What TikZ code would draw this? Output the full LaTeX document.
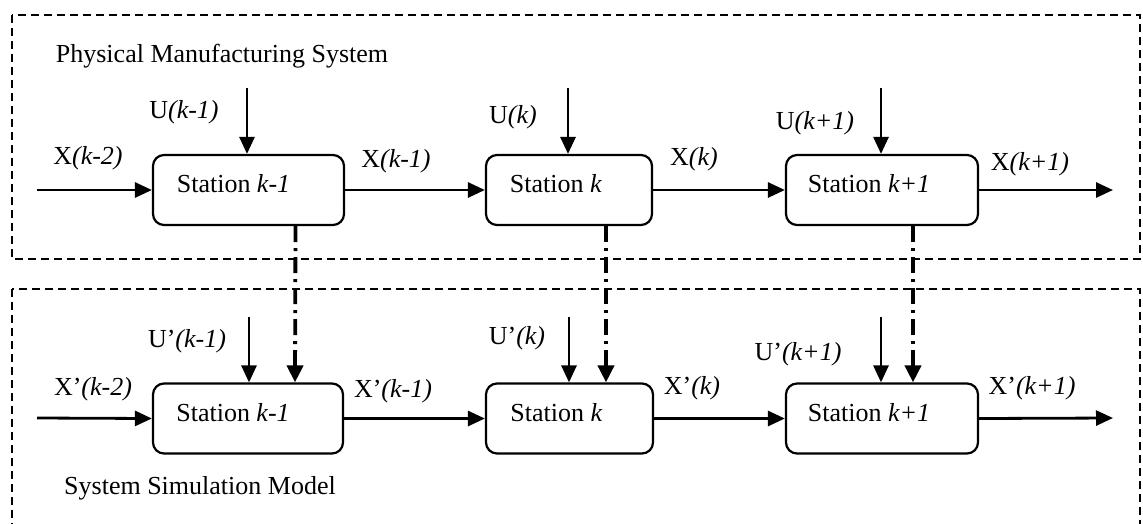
\documentclass[tikz,border=0pt]{standalone}
\usepackage{fontspec}
\setmainfont{Liberation Serif}
\usetikzlibrary{arrows.meta,calc}

\tikzset{
  stationbox/.style={draw, line width=2.2pt, rounded corners=11pt, minimum height=70pt, inner sep=0pt},
  flow/.style={line width=2.8pt, -{Triangle[length=17pt,width=15pt]}},
  link/.style={line width=3.8pt, dash pattern=on 16pt off 6pt on 3pt off 6pt, -{Triangle[length=17pt,width=16pt]}},
  region/.style={line width=1.9pt, dash pattern=on 8pt off 5pt},
  lbl/.style={inner sep=0pt, font=\fontsize{26}{30}\selectfont},
}

\begin{document}
\begin{tikzpicture}[x=1pt, y=-1pt]
  \useasboundingbox (0,0) rectangle (1143,523);
  \clip (0,0) rectangle (1143,523);

  % dashed regions
  \draw[region] (12,15) rectangle (1140,259);
  \draw[region] (12,289) rectangle (1140,540);

  \node[lbl] (phys) at (222,56) {Physical Manufacturing System};
  \node[lbl] (sim)  at (200,488) {System Simulation Model};

  % physical stations
  \node[stationbox, minimum width=191pt] (t1) at (248.5,190) {};
  \node[stationbox, minimum width=166pt] (t2) at (569,190) {};
  \node[stationbox, minimum width=192pt] (t3) at (882,190) {};
  \node[lbl] (t1txt) at ([shift={(-15,-6)}]t1.center) {Station \textit{k-1}};
  \node[lbl] (t2txt) at ([shift={(-13,-6)}]t2.center) {Station \textit{k}};
  \node[lbl] (t3txt) at ([shift={(-13,-6)}]t3.center) {Station \textit{k+1}};

  % simulated stations
  \node[stationbox, minimum width=190pt] (b1) at (248,418.5) {};
  \node[stationbox, minimum width=167pt] (b2) at (569.5,418.5) {};
  \node[stationbox, minimum width=192pt] (b3) at (882,418.5) {};
  \node[lbl] (b1txt) at ([shift={(-15,-6)}]b1.center) {Station \textit{k-1}};
  \node[lbl] (b2txt) at ([shift={(-13,-6)}]b2.center) {Station \textit{k}};
  \node[lbl] (b3txt) at ([shift={(-13,-6)}]b3.center) {Station \textit{k+1}};

  % free ends of the flows
  \coordinate (tin)  at (37,190);
  \coordinate (tout) at (1113,190);
  \coordinate (bin)  at (37,418);
  \coordinate (bout) at (1113,418);
  \coordinate (u1) at (247,88);
  \coordinate (u2) at (568,88);
  \coordinate (u3) at (881,88);
  \coordinate (v1) at (249,317);
  \coordinate (v2) at (569,317);
  \coordinate (v3) at (881,317);

  % physical flow
  \draw[flow] (tin) -- (t1.west);
  \draw[flow] (t1.east) -- (t2.west);
  \draw[flow] (t2.east) -- (t3.west);
  \draw[flow] (t3.east) -- (tout);
  \draw[flow] (u1) -- (u1 |- t1.north);
  \draw[flow] (u2) -- (u2 |- t2.north);
  \draw[flow] (u3) -- (u3 |- t3.north);

  % simulated flow
  \draw[flow] (bin) -- (b1.west);
  \draw[flow] (b1.east) -- (b2.west);
  \draw[flow] (b2.east) -- (b3.west);
  \draw[flow] (b3.east) -- (bout);
  \draw[flow] (v1) -- (v1 |- b1.north);
  \draw[flow] (v2) -- (v2 |- b2.north);
  \draw[flow] (v3) -- (v3 |- b3.north);

  % links from physical to simulated stations
  \draw[link] ([xshift=47pt]t1.south) -- ([xshift=47pt]b1.north);
  \draw[link] ([xshift=37pt]t2.south) -- ([xshift=36.5pt]b2.north);
  \draw[link] ([xshift=31pt]t3.south) -- ([xshift=31pt]b3.north);

  % signal labels, physical
  \node[lbl] (lx0) at (88,158)   {X\textit{(k-2)}};
  \node[lbl] (lu1) at (184,112)  {U\textit{(k-1)}};
  \node[lbl] (lx1) at (396,161)  {X\textit{(k-1)}};
  \node[lbl] (lu2) at (513,117)  {U\textit{(k)}};
  \node[lbl] (lx2) at (694,159)  {X\textit{(k)}};
  \node[lbl] (lu3) at (815,123)  {U\textit{(k+1)}};
  \node[lbl] (lx3) at (1030,164) {X\textit{(k+1)}};

  % signal labels, simulated
  \node[lbl] (mx0) at (93,389)   {X'\textit{(k-2)}};
  \node[lbl] (mu1) at (187,341)  {U'\textit{(k-1)}};
  \node[lbl] (mx1) at (393,391)  {X'\textit{(k-1)}};
  \node[lbl] (mu2) at (517,338)  {U'\textit{(k)}};
  \node[lbl] (mx2) at (692,388)  {X'\textit{(k)}};
  \node[lbl] (mu3) at (798,354)  {U'\textit{(k+1)}};
  \node[lbl] (mx3) at (1032,388) {X'\textit{(k+1)}};
\end{tikzpicture}
\end{document}
